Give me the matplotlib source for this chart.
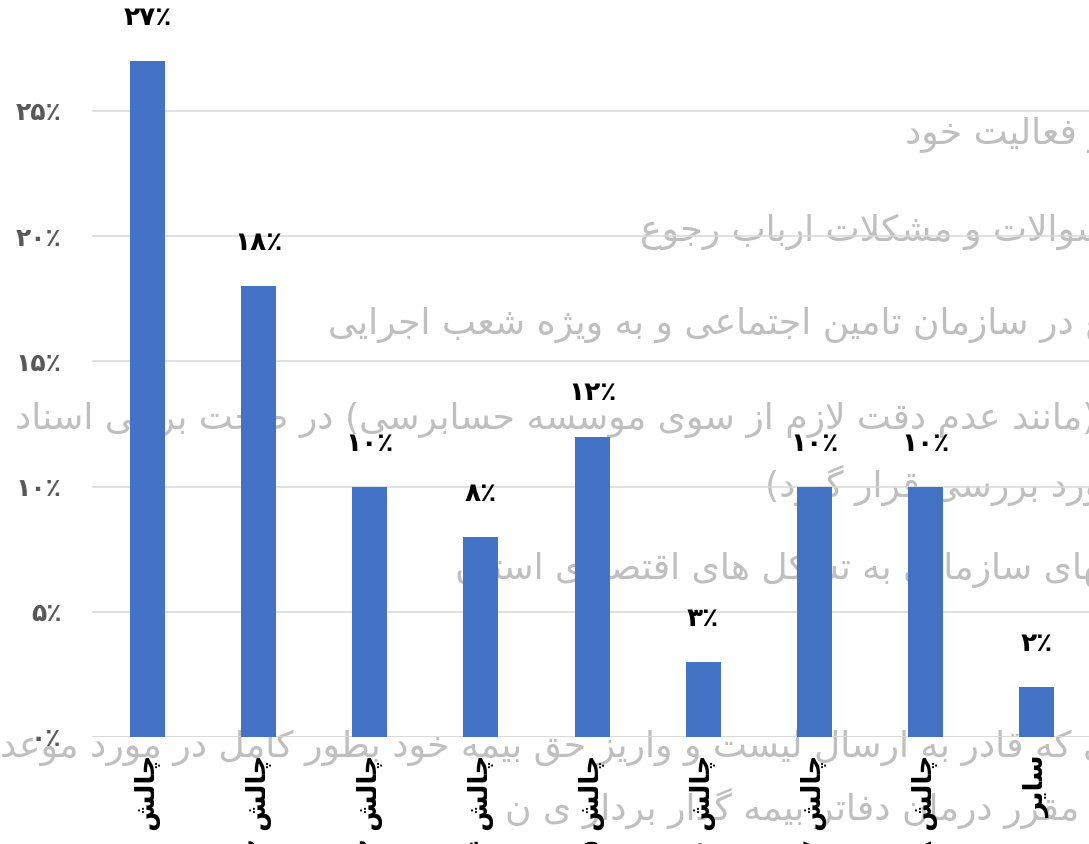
import re
import matplotlib
matplotlib.use("Agg")
import matplotlib.pyplot as plt

# داده ها
categories = ["چالش ۱", "چالش ۲", "چالش ۳", "چالش ۴", "چالش ۵",
              "چالش ۶", "چالش ۷", "چالش ۸", "سایر"]
values = [27, 18, 10, 8, 12, 3, 10, 10, 2]
yticks = [0, 5, 10, 15, 20, 25]

# متن های خاکستری که روی نمودار افتاده اند
bg_lines = [
    "و فعالیت خود",
    "سوالات و مشکلات ارباب رجوع",
    "مع در سازمان تامین اجتماعی و به ویژه شعب اجرایی",
    "ی (مانند عدم دقت لازم از سوی موسسه حسابرسی) در صحت برخی اسناد",
    "مورد بررسی قرار گیرد)",
    "ههای سازمانی به تشکل های اقتصادی استان",
    "ی که قادر به ارسال لیست و واریز حق بیمه خود بطور کامل در مورد موعد",
    "مقرر درمان دفاتر بیمه گذار بردار ی ن",
]

# شکل های حروف: جدا، پایانی، آغازی، میانی
FORMS = {
    'ا': ('\uFE8D', '\uFE8E', None, None),
    'آ': ('\uFE81', '\uFE82', None, None),
    'ب': ('\uFE8F', '\uFE90', '\uFE91', '\uFE92'),
    'پ': ('\uFB56', '\uFB57', '\uFB58', '\uFB59'),
    'ت': ('\uFE95', '\uFE96', '\uFE97', '\uFE98'),
    'ث': ('\uFE99', '\uFE9A', '\uFE9B', '\uFE9C'),
    'ج': ('\uFE9D', '\uFE9E', '\uFE9F', '\uFEA0'),
    'چ': ('\uFB7A', '\uFB7B', '\uFB7C', '\uFB7D'),
    'ح': ('\uFEA1', '\uFEA2', '\uFEA3', '\uFEA4'),
    'خ': ('\uFEA5', '\uFEA6', '\uFEA7', '\uFEA8'),
    'د': ('\uFEA9', '\uFEAA', None, None),
    'ذ': ('\uFEAB', '\uFEAC', None, None),
    'ر': ('\uFEAD', '\uFEAE', None, None),
    'ز': ('\uFEAF', '\uFEB0', None, None),
    'ژ': ('\uFB8A', '\uFB8B', None, None),
    'س': ('\uFEB1', '\uFEB2', '\uFEB3', '\uFEB4'),
    'ش': ('\uFEB5', '\uFEB6', '\uFEB7', '\uFEB8'),
    'ص': ('\uFEB9', '\uFEBA', '\uFEBB', '\uFEBC'),
    'ض': ('\uFEBD', '\uFEBE', '\uFEBF', '\uFEC0'),
    'ط': ('\uFEC1', '\uFEC2', '\uFEC3', '\uFEC4'),
    'ظ': ('\uFEC5', '\uFEC6', '\uFEC7', '\uFEC8'),
    'ع': ('\uFEC9', '\uFECA', '\uFECB', '\uFECC'),
    'غ': ('\uFECD', '\uFECE', '\uFECF', '\uFED0'),
    'ف': ('\uFED1', '\uFED2', '\uFED3', '\uFED4'),
    'ق': ('\uFED5', '\uFED6', '\uFED7', '\uFED8'),
    'ک': ('\uFB8E', '\uFB8F', '\uFB90', '\uFB91'),
    'گ': ('\uFB92', '\uFB93', '\uFB94', '\uFB95'),
    'ل': ('\uFEDD', '\uFEDE', '\uFEDF', '\uFEE0'),
    'م': ('\uFEE1', '\uFEE2', '\uFEE3', '\uFEE4'),
    'ن': ('\uFEE5', '\uFEE6', '\uFEE7', '\uFEE8'),
    'و': ('\uFEED', '\uFEEE', None, None),
    'ه': ('\uFEE9', '\uFEEA', '\uFEEB', '\uFEEC'),
    'ی': ('\uFBFC', '\uFBFD', '\uFBFE', '\uFBFF'),
    'ئ': ('\uFE89', '\uFE8A', '\uFE8B', '\uFE8C'),
}
LAM_ALEF = {'ا': ('\uFEFB', '\uFEFC'), 'آ': ('\uFEF5', '\uFEF6')}


def shape(text):
    chars = list(text)
    out = []
    i = 0
    while i < len(chars):
        c = chars[i]
        if c not in FORMS:
            out.append(c)
            i += 1
            continue
        prev = chars[i - 1] if i > 0 else ''
        joins_prev = prev in FORMS and FORMS[prev][2] is not None
        if c == 'ل' and i + 1 < len(chars) and chars[i + 1] in LAM_ALEF:
            lig = LAM_ALEF[chars[i + 1]]
            out.append(lig[1] if joins_prev else lig[0])
            i += 2
            continue
        nxt = chars[i + 1] if i + 1 < len(chars) else ''
        joins_next = FORMS[c][2] is not None and nxt in FORMS
        iso, fin, ini, med = FORMS[c]
        if joins_prev and joins_next:
            out.append(med)
        elif joins_prev:
            out.append(fin)
        elif joins_next:
            out.append(ini)
        else:
            out.append(iso)
        i += 1
    return ''.join(out)


def visual(text):
    # ترتیب نمایشی راست به چپ
    s = shape(text)[::-1]
    s = s.translate(str.maketrans('()', ')('))
    return re.sub(r'[0-9۰-۹٪%]+', lambda m: m.group(0)[::-1], s)


def fa(n):
    return str(n).translate(str.maketrans('0123456789', '۰۱۲۳۴۵۶۷۸۹')) + '٪'


W, H = 1089, 844
fig = plt.figure(figsize=(W / 100, H / 100), dpi=100)

# لایه پشتی برای متن های خاکستری
bg = fig.add_axes([0, 0, 1, 1], zorder=-1)
bg.set_xlim(0, W)
bg.set_ylim(H, 0)
bg.axis('off')
bg_pos = [(905, 135), (640, 232), (328, 325), (15, 420),
          (765, 485), (455, 570), (0, 748), (505, 808)]
for txt, (x, y) in zip(bg_lines, bg_pos):
    bg.text(x, y, visual(txt), ha='left', va='center', fontsize=26,
            color='#BFBFBF', family='DejaVu Sans', clip_on=False)

ax = fig.add_axes([92 / W, (H - 737) / H, 1000 / W, 737 / H], zorder=1)
ax.patch.set_alpha(0)
x = list(range(len(values)))
ax.bar(x, values, width=0.315, color='#4472C4', zorder=3)
ax.set_xlim(-0.5, 8.5)
ax.set_ylim(0, 737 / 25.04)

for xi, v in zip(x, values):
    ax.annotate(fa(v), (xi, v), xytext=(0, 31), textcoords='offset points',
                ha='center', va='center', fontsize=19, fontweight='bold',
                color='black', family='DejaVu Sans')

ax.set_yticks(yticks)
ax.set_yticklabels([fa(t) for t in yticks], fontsize=18, fontweight='bold',
                   color='#595959', family='DejaVu Sans')
ax.set_xticks(x)
ax.set_xticklabels([visual(c) for c in categories], rotation=90, fontsize=19,
                   fontweight='bold', color='black', family='DejaVu Sans')
ax.tick_params(axis='y', length=0, pad=22)
ax.tick_params(axis='x', length=0, pad=13)
ax.grid(axis='y', color='#D9D9D9', linewidth=1.1, zorder=0)
for s in ax.spines.values():
    s.set_visible(False)
ax.axhline(0, color='#D9D9D9', linewidth=1.1, zorder=1)

fig.savefig('out.png', dpi=100)
